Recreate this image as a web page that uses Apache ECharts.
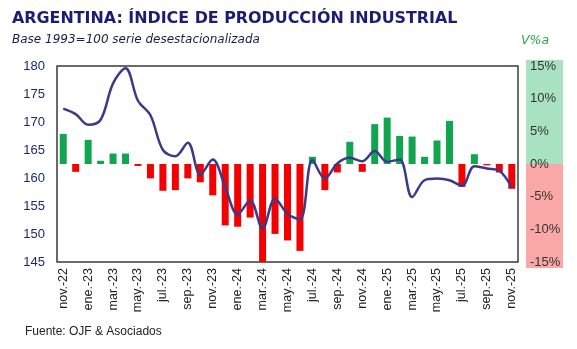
<!DOCTYPE html>
<html><head><meta charset="utf-8">
<script src="https://cdn.jsdelivr.net/npm/echarts@6/dist/echarts.min.js"></script>
<style>html,body{margin:0;padding:0;background:#fff}#c{width:577px;height:349px}</style>
</head><body><div id="c"></div>
<script>
const categories = ["nov.-22","dic.-22","ene.-23","feb.-23","mar.-23","abr.-23","may.-23","jun.-23","jul.-23","ago.-23","sep.-23","oct.-23",
"nov.-23","dic.-23","ene.-24","feb.-24","mar.-24","abr.-24","may.-24","jun.-24","jul.-24","ago.-24","sep.-24","oct.-24",
"nov.-24","dic.-24","ene.-25","feb.-25","mar.-25","abr.-25","may.-25","jun.-25","jul.-25","ago.-25","sep.-25","oct.-25","nov.-25"];
const indexValues = [172.4,171.4,169.5,170.4,176.9,179.6,173.8,171.2,165.0,163.9,166.3,160.6,
163.3,158.4,153.5,156.0,151.0,156.3,153.6,152.6,163.2,159.9,162.6,163.6,
163.0,164.8,162.9,163.3,156.6,159.6,159.9,159.6,158.6,162.1,161.7,161.3,158.3];
const yoyValues = [4.6,-1.2,3.7,0.5,1.6,1.6,-0.3,-2.2,-4.1,-4.0,-2.2,-2.8,
-4.8,-9.4,-9.6,-8.2,-15.3,-10.7,-11.7,-13.3,1.1,-4.0,-1.3,3.4,
-1.2,6.1,7.1,4.3,4.2,1.1,3.6,6.6,-3.5,1.5,-0.2,-1.3,-3.8];
const leftTicks = {min:145, max:180, interval:5};
const rightTicks = {min:-15, max:15, interval:5};

const chart = echarts.init(document.getElementById('c'), null, {renderer:'canvas'});
chart.setOption({
  animation:false,
  backgroundColor:'#fff',
  title:[
    {text:'ARGENTINA: ÍNDICE DE PRODUCCIÓN INDUSTRIAL', left:7, top:6,
     textStyle:{fontFamily:'DejaVu Sans', fontWeight:'bold', fontSize:15.9, color:'#1c1c72'}},
    {text:'Base 1993=100 serie desestacionalizada', left:7, top:29,
     textStyle:{fontFamily:'DejaVu Sans', fontStyle:'italic', fontWeight:'normal', fontSize:12, color:'#1c1c4a'}},
    {text:'V%a', left:516, top:29,
     textStyle:{fontFamily:'DejaVu Sans', fontStyle:'italic', fontWeight:'normal', fontSize:12.5, color:'#2ea14f'}},
    {text:'Fuente: OJF & Asociados', left:20, top:321,
     textStyle:{fontFamily:'Liberation Sans', fontWeight:'normal', fontSize:12, color:'#222'}}
  ],
  graphic:[
    {type:'rect', left:526, top:60, shape:{width:37, height:104}, style:{fill:'#a8e2c0'}, z:-1},
    {type:'rect', left:526, top:164, shape:{width:37, height:104}, style:{fill:'#f9a7a7'}, z:-1}
  ],
  grid:{left:57, right:59, top:66, bottom:87, show:true, borderColor:'#3a3a3a', borderWidth:1.5, backgroundColor:'transparent'},
  xAxis:{type:'category', data:categories, boundaryGap:true,
    axisLine:{show:false}, axisTick:{show:false},
    axisLabel:{interval:1, rotate:90, margin:6, fontFamily:'Liberation Sans', fontSize:12.5, color:'#222'}},
  yAxis:[
    {type:'value', min:leftTicks.min, max:leftTicks.max, interval:leftTicks.interval, position:'left',
     splitLine:{show:false}, axisLine:{show:false}, axisTick:{show:false},
     axisLabel:{margin:12, fontFamily:'Liberation Sans', fontSize:13, color:'#1c2a6a'}},
    {type:'value', min:rightTicks.min, max:rightTicks.max, interval:rightTicks.interval, position:'right',
     splitLine:{show:false}, axisLine:{show:false}, axisTick:{show:false},
     axisLabel:{margin:12, formatter:'{value}%', fontFamily:'Liberation Sans', fontSize:13, color:'#333'}}
  ],
  series:[
    {type:'bar', yAxisIndex:1, data:yoyValues, barWidth:7,
     itemStyle:{color:p=>p.value>=0?'#12a550':'#f40000'}},
    {type:'line', yAxisIndex:0, data:indexValues, smooth:0.35, symbol:'none',
     lineStyle:{color:'#3a3a8c', width:2.5}, z:5}
  ]
});
</script></body></html>
